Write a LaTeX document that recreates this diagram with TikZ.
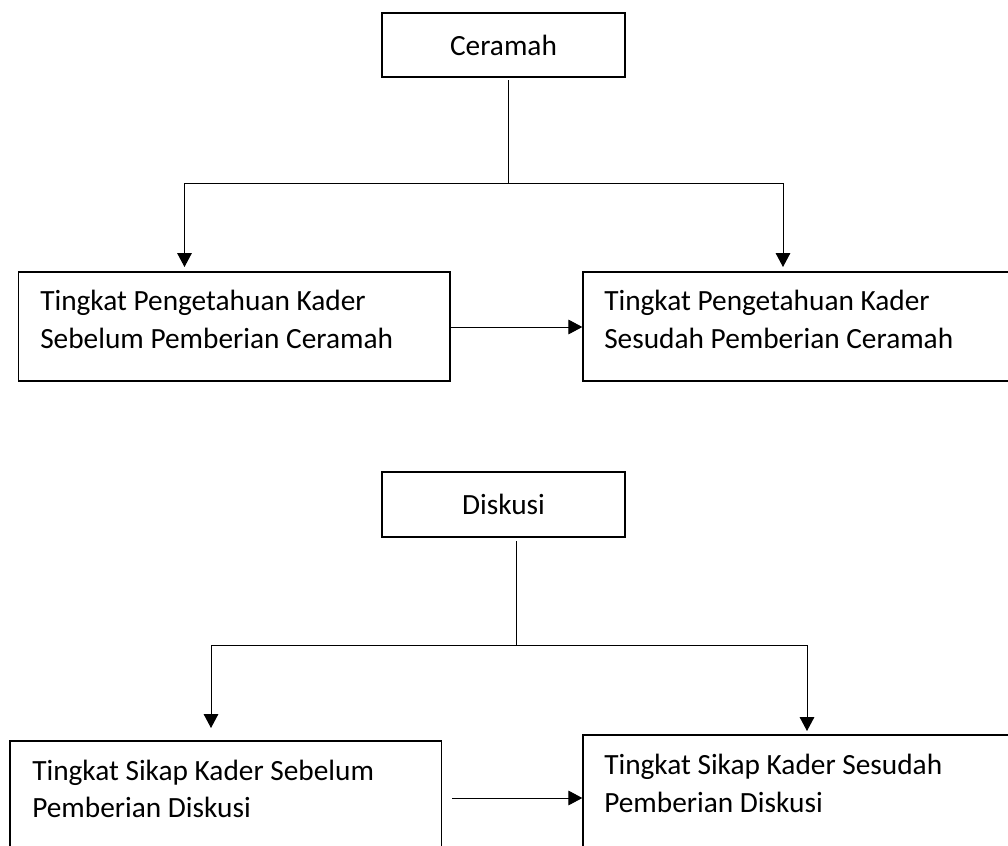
\documentclass[tikz,border=0pt]{standalone}
\usepackage{fontspec}
\setmainfont{Carlito}
\usetikzlibrary{arrows.meta}
\begin{document}
\begin{tikzpicture}[x=0.75pt,y=-0.75pt,
  boxnode/.style={draw=black,line width=1pt,rectangle,inner sep=0pt},
  txt/.style={inner sep=0pt,anchor=base west,font=\fontsize{22}{28}\selectfont},
  ctxt/.style={font=\fontsize{22}{28}\selectfont},
  conn/.style={draw=black,line width=0.75pt},
  arr/.style={conn,-{Triangle[length=10.5pt,width=11pt]}}]
\useasboundingbox (0,0) rectangle (1008,846);
\clip (0,0) rectangle (1008,846);
% ---------- Row 1 ----------
\node[boxnode,ctxt,minimum width=182.25pt,minimum height=48pt] (ceramah) at (503.5,45) {Ceramah};
\node[boxnode,minimum width=323.5pt,minimum height=81.75pt] (sebc) at (234.3,326.5) {};
\node[boxnode,minimum width=327.75pt,minimum height=81.75pt] (sesc) at (801.5,326.5) {};
\node[txt] (sebc1) at (40,310) {Tingkat Pengetahuan Kader};
\node[txt] (sebc2) at (40,348.5) {Sebelum Pemberian Ceramah};
\node[txt] (sesc1) at (604,310) {Tingkat Pengetahuan Kader};
\node[txt] (sesc2) at (604,348.5) {Sesudah Pemberian Ceramah};
\coordinate (c0) at (508,80);
\coordinate (cj) at (508,183);
\coordinate (cl) at (184.5,183);
\coordinate (cr) at (783,183);
\draw[conn] (c0) -- (cj);
\draw[conn] (cl) -- (cr);
\draw[arr] (cl) -- (184.5,267) coordinate (clt);
\draw[arr] (cr) -- (783,267) coordinate (crt);
\draw[arr] (sebc.east |- 0,327) -- (sesc.west |- 0,327);
% ---------- Row 2 ----------
\node[boxnode,ctxt,minimum width=182.25pt,minimum height=48.75pt] (diskusi) at (503.5,504.5) {Diskusi};
\node[boxnode,minimum width=323.7pt,minimum height=89.25pt] (sebd) at (225.8,800.5) {};
\node[boxnode,minimum width=327.75pt,minimum height=93.75pt] (sesd) at (801.5,797.5) {};
\node[txt] (sebd1) at (32,780) {Tingkat Sikap Kader Sebelum};
\node[txt] (sebd2) at (32,817) {Pemberian Diskusi};
\node[txt] (sesd1) at (604,774) {Tingkat Sikap Kader Sesudah};
\node[txt] (sesd2) at (604,812) {Pemberian Diskusi};
\coordinate (d0) at (516,541);
\coordinate (dj) at (516,645);
\coordinate (dl) at (211,645);
\coordinate (dr) at (807,645);
\draw[conn] (d0) -- (dj);
\draw[conn] (dl) -- (dr);
\draw[arr] (dl) -- (211,728) coordinate (dlt);
\draw[arr] (dr) -- (807,731) coordinate (drt);
\coordinate (da) at (452,798);
\draw[arr] (da) -- (sesd.west |- da);
\end{tikzpicture}
\end{document}
